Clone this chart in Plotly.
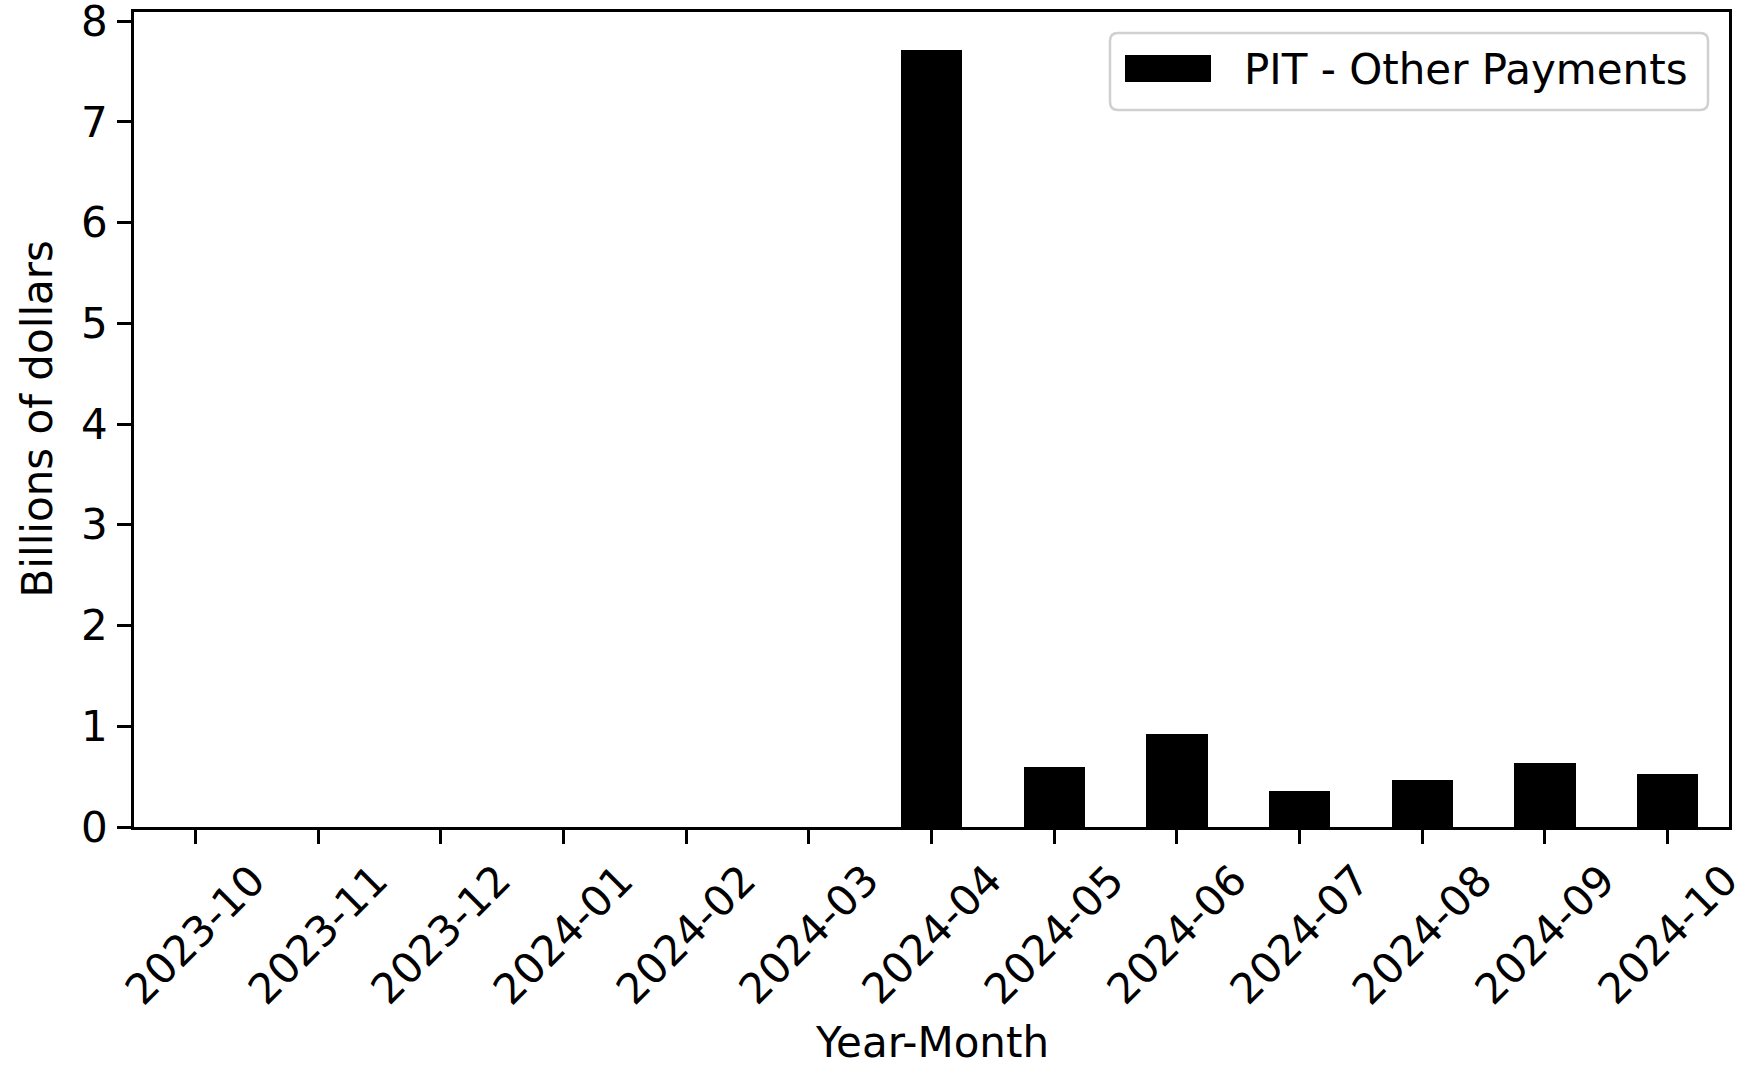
import plotly.graph_objects as go

months = ["2023-10", "2023-11", "2023-12", "2024-01", "2024-02", "2024-03",
          "2024-04", "2024-05", "2024-06", "2024-07", "2024-08", "2024-09", "2024-10"]
values = [0, 0, 0, 0, 0, 0, 7.71, 0.60, 0.92, 0.36, 0.47, 0.635, 0.53]
series_name = "PIT - Other Payments"
y_ticks = [0, 1, 2, 3, 4, 5, 6, 7, 8]

FONT = "DejaVu Sans"
FS = 42
OFF = 0  # page body margin removed by post_script
W, H = 1747 - OFF, 1067 - OFF
L, T = 134 - OFF, 12 - OFF
R = W - (1729 - OFF)
B = H - (827 - OFF)

fig = go.Figure()
fig.add_trace(go.Bar(x=months, y=values, width=0.5, marker_color="black",
                     marker_line_width=0, name=series_name, showlegend=False))

fig.update_layout(
    width=W, height=H, margin=dict(l=L, r=R, t=T, b=B, autoexpand=False),
    plot_bgcolor="white", paper_bgcolor="white",
    font=dict(family=FONT, size=FS, color="black"),
    bargap=0,
)
fig.update_xaxes(type="category", range=[-0.5, 12.5], showline=True, mirror=True,
                 linecolor="black", linewidth=2.5, ticks="outside", ticklen=14,
                 tickwidth=2.5, tickcolor="black", showgrid=False,
                 showticklabels=False, zeroline=False, automargin=False)
fig.update_yaxes(range=[0, 8.09], tickvals=y_ticks, showline=True, mirror=True,
                 linecolor="black", linewidth=2.5, ticks="outside", ticklen=14,
                 tickwidth=2.5, tickcolor="black", showgrid=False, zeroline=False,
                 ticklabelstandoff=1, tickfont=dict(size=FS), automargin=False,
                 ticklabeloverflow="allow")

# x tick labels rotated, centered on ticks (matplotlib style)
for m in months:
    fig.add_annotation(x=m, xref="x", y=0, yref="paper", yanchor="top", xanchor="center",
                       yshift=-25, text=m, textangle=-45, showarrow=False,
                       font=dict(size=FS))

fig.add_annotation(x=0.5, xref="paper", y=0, yref="paper", yanchor="middle",
                   yshift=-(1042 - 827), text="Year-Month", showarrow=False,
                   font=dict(size=FS))
fig.add_annotation(x=0, xref="paper", y=0.5, yref="paper", xanchor="center",
                   xshift=37 - 134, text="Billions of dollars", textangle=-90,
                   showarrow=False, font=dict(size=FS))

# legend box (matplotlib style); coordinates given in page pixels
pw = W - L - R
ph = H - T - B
def px2x(px):
    return (px - OFF - L) / pw
def py2y(py):
    return 1 - (py - OFF - T) / ph

x0, x1, y0, y1, r = 1110, 1708, 33, 110, 8
path = (f"M {px2x(x0 + r)} {py2y(y0)} L {px2x(x1 - r)} {py2y(y0)} "
        f"Q {px2x(x1)} {py2y(y0)} {px2x(x1)} {py2y(y0 + r)} "
        f"L {px2x(x1)} {py2y(y1 - r)} Q {px2x(x1)} {py2y(y1)} {px2x(x1 - r)} {py2y(y1)} "
        f"L {px2x(x0 + r)} {py2y(y1)} Q {px2x(x0)} {py2y(y1)} {px2x(x0)} {py2y(y1 - r)} "
        f"L {px2x(x0)} {py2y(y0 + r)} Q {px2x(x0)} {py2y(y0)} {px2x(x0 + r)} {py2y(y0)} Z")
fig.add_shape(type="path", path=path, xref="paper", yref="paper",
              line=dict(color="#d0d0d0", width=2.5), fillcolor="rgba(255,255,255,0.8)")
fig.add_shape(type="rect", xref="paper", yref="paper",
              x0=px2x(1125), x1=px2x(1211), y0=py2y(55), y1=py2y(82),
              fillcolor="black", line_width=0)
fig.add_annotation(x=px2x(1242), xref="paper", y=py2y(69), yref="paper",
                   xanchor="left", yanchor="middle", text=series_name,
                   showarrow=False, font=dict(size=FS))

fig.write_html("out.html", config={"displayModeBar": False},
               post_script="document.body.style.margin='0';document.body.style.overflow='hidden';")
